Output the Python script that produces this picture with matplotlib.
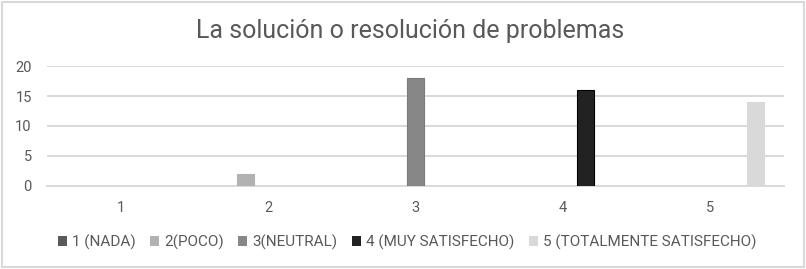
import numpy as np
import matplotlib
matplotlib.use('Agg')
import matplotlib.pyplot as plt
from matplotlib.patches import Rectangle

categories = ['1', '2', '3', '4', '5']
series_names = ['1 (NADA)', '2(POCO)', '3(NEUTRAL)', '4 (MUY SATISFECHO)', '5 (TOTALMENTE SATISFECHO)']
nada = [0, 0, 0, 0, 0]
poco = [0, 2, 0, 0, 0]
neutral = [0, 0, 18, 0, 0]
muy_satisfecho = [0, 0, 0, 16, 0]
totalmente = [0, 0, 0, 0, 14]
series_values = [nada, poco, neutral, muy_satisfecho, totalmente]
colors = ['#5a5a5a', '#b2b2b2', '#878787', '#222222', '#d9d9d9']
edges = ['#5a5a5a', '#b2b2b2', '#7a7a7a', '#000000', '#d9d9d9']

txt = '#595959'
plt.rcParams['font.family'] = ['Roboto', 'DejaVu Sans']

fig = plt.figure(figsize=(8.06, 2.69), dpi=100)
ax = fig.add_axes([0.0583, 0.3086, 0.9144, 0.446])

x = np.arange(1, len(categories) + 1)
step = 0.1527
width = 0.115
for i, (name, vals) in enumerate(zip(series_names, series_values)):
    lw = [0.8 if v > 0 else 0 for v in vals]
    ax.bar(x + (i - 2) * step, vals, width, color=colors[i], edgecolor=edges[i],
           linewidth=lw, label=name, zorder=3)

ax.set_xlim(0.5, 5.5)
ax.set_ylim(0, 20)
ax.set_yticks([0, 5, 10, 15, 20])
ax.set_xticks(x)
ax.set_xticklabels(categories)
ax.yaxis.grid(True, color='#d9d9d9', linewidth=1.4, zorder=0)
ax.set_axisbelow(True)
for s in ax.spines.values():
    s.set_visible(False)
ax.spines['bottom'].set_visible(True)
ax.spines['bottom'].set_color('#d9d9d9')
ax.spines['bottom'].set_linewidth(1.4)
ax.tick_params(axis='both', length=0, labelsize=10.5, labelcolor=txt)
ax.tick_params(axis='x', pad=11)
ax.tick_params(axis='y', pad=11)

fig.text(0.509, 0.8587, 'La solución o resolución de problemas', ha='center', va='baseline',
         fontsize=18, color=txt)

handles, labels = ax.get_legend_handles_labels()
leg = fig.legend(handles, labels, loc='center', bbox_to_anchor=(0.505, 0.1), ncol=5,
                 frameon=False, fontsize=11, handlelength=0.6, handleheight=0.6,
                 handletextpad=0.32, columnspacing=0.95, labelcolor=txt)

fig.patches.append(Rectangle((0.003, 0.008), 0.994, 0.985, transform=fig.transFigure,
                             fill=False, edgecolor='#d9d9d9', linewidth=1.5))

fig.savefig('out.png', dpi=100)
